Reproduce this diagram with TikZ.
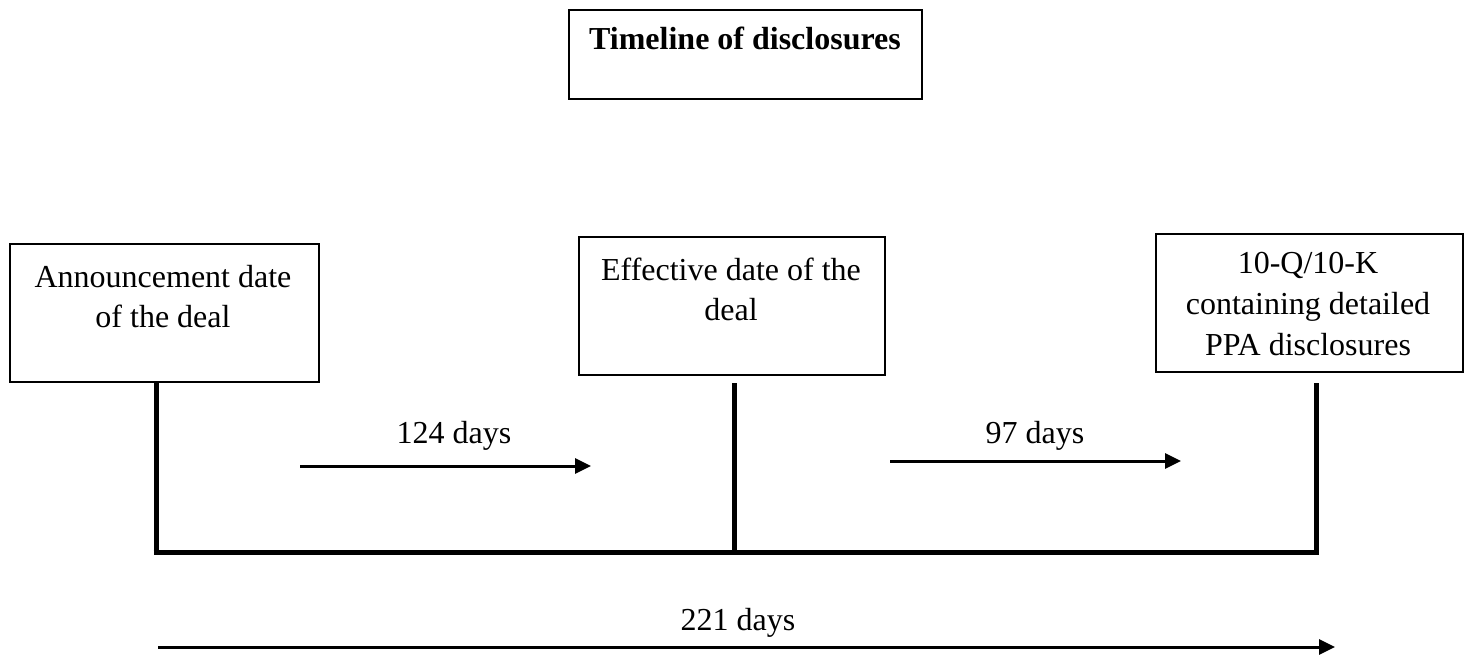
\documentclass[tikz,border=0pt]{standalone}
\usepackage{fontspec}
\setmainfont{Liberation Serif}
\usetikzlibrary{arrows.meta}
\begin{document}
\begin{tikzpicture}[x=1pt,y=-1pt,
  boxnode/.style={draw=black,line width=2pt,inner sep=0pt,anchor=north west},
  txt/.style={inner sep=0pt,anchor=base,font=\fontsize{32}{41}\selectfont},
  ttl/.style={inner sep=0pt,anchor=base,font=\fontsize{32}{41}\selectfont\bfseries},
  stem/.style={line width=5pt},
  span/.style={line width=3pt,-{Triangle[length=16pt,width=15pt]}}]
\useasboundingbox (0,0) rectangle (1468,654);
% title
\node[boxnode,minimum width=353pt,minimum height=89pt] (title) at (568,9) {};
\node[ttl] (titletxt) at (745,49) {Timeline of disclosures};
% box 1
\node[boxnode,minimum width=309pt,minimum height=138pt] (ann) at (9,243) {};
\node[txt] (ann1) at (163,287) {Announcement date};
\node[txt] (ann2) at (163,327) {of the deal};
% box 2
\node[boxnode,minimum width=306pt,minimum height=138pt] (eff) at (578,236) {};
\node[txt] (eff1) at (731,280) {Effective date of the};
\node[txt] (eff2) at (731,320) {deal};
% box 3
\node[boxnode,minimum width=307pt,minimum height=138pt] (ppa) at (1155,233) {};
\node[txt] (ppa1) at (1308,273) {10-Q/10-K};
\node[txt] (ppa2) at (1308,314) {containing detailed};
\node[txt] (ppa3) at (1308,355) {PPA disclosures};
% timeline
\coordinate (t1) at (156,381);
\coordinate (b1) at (156,552);
\coordinate (t2) at (734,383);
\coordinate (b2) at (734,552);
\coordinate (t3) at (1316,383);
\coordinate (b3) at (1316,552);
\draw[stem] (t1) -- (b1);
\draw[stem] (t2) -- (b2);
\draw[stem] (t3) -- (b3);
\draw[stem] ([xshift=-2.5pt]b1) -- ([xshift=2.5pt]b3);
% arrows
\coordinate (a1s) at (300,466);
\coordinate (a1e) at (591,466);
\draw[span] (a1s) -- (a1e);
\node[txt] (l1) at (454,443) {124 days};
\coordinate (a2s) at (890,461);
\coordinate (a2e) at (1181,461);
\draw[span] (a2s) -- (a2e);
\node[txt] (l2) at (1035,443) {97 days};
\coordinate (a3s) at (158,647);
\coordinate (a3e) at (1335,647);
\draw[span] (a3s) -- (a3e);
\node[txt] (l3) at (738,630) {221 days};
\end{tikzpicture}
\end{document}
